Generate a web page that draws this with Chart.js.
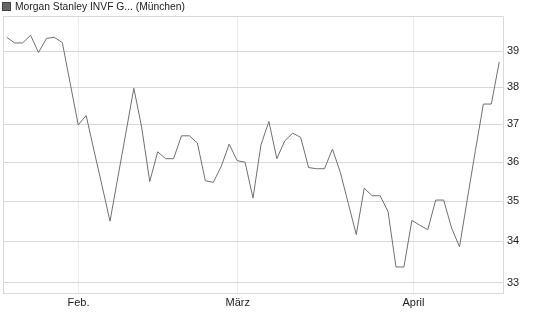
<!DOCTYPE html>
<html>
<head>
<meta charset="utf-8">
<script src="https://cdn.jsdelivr.net/npm/chart.js@4"></script>
<style>
  html, body { margin: 0; padding: 0; background: #fff; }
  #wrap { position: relative; width: 545px; height: 327px; }
  #legend { position: absolute; left: 2px; top: 0px; font: 10.3px "Liberation Sans", Arial, sans-serif; color: #222; line-height: 13px; }
  #legend span.box { display: inline-block; width: 7px; height: 7px; background: #666; border: 1px solid #444; margin-right: 4px; vertical-align: -1px; }
</style>
</head>
<body>
<div id="wrap">
  <div id="legend"><span class="box"></span>Morgan Stanley INVF G... (München)</div>
  <canvas id="priceChart" width="545" height="327"></canvas>
</div>
<script>
const seriesName = "Morgan Stanley INVF G... (München)";
// daily closing prices (trading days, mid Jan - mid Apr)
const prices = [
  39.39, 39.23, 39.23, 39.45, 38.96, 39.36, 39.39, 39.24, 38.09, 36.98,
  37.23, 36.29, 35.39, 34.50, 35.62, 36.77, 37.97, 36.90, 35.50, 36.27,
  36.09, 36.09, 36.69, 36.69, 36.50, 35.52, 35.48, 35.89, 36.47, 36.04,
  36.00, 35.08, 36.45, 37.07, 36.09, 36.56, 36.76, 36.65, 35.86, 35.83,
  35.83, 36.34, 35.73, 34.94, 34.17, 35.33, 35.14, 35.14, 34.74, 33.38,
  33.38, 34.52, 34.40, 34.29, 35.03, 35.03, 34.33, 33.87, 35.08, 36.31,
  37.54, 37.54, 38.70
];
// month starts, in trading-day index
const monthPos = [9.03, 29.08, 51.2];
const monthLabels = ["Feb.", "März", "April"];
const yTicks = [33, 34, 35, 36, 37, 38, 39];

const points = prices.map((v, i) => ({ x: i, y: v }));

const frame = {
  id: "frame",
  afterDraw(chart) {
    const a = chart.chartArea;
    const c = chart.ctx;
    c.save();
    c.strokeStyle = "#d8d8d8";
    c.lineWidth = 1;
    c.strokeRect(Math.round(a.left) + 0.5, Math.round(a.top) + 0.5,
      Math.round(a.right - a.left), Math.round(a.bottom - a.top));
    c.restore();
  }
};

const ctx = document.getElementById("priceChart").getContext("2d");
new Chart(ctx, {
  type: "line",
  data: {
    datasets: [{
      label: seriesName,
      data: points,
      borderColor: "#707070",
      borderWidth: 1,
      pointRadius: 0,
      tension: 0,
      fill: false,
    }],
  },
  options: {
    responsive: false,
    animation: false,
    layout: { padding: { top: 16, left: 3, right: 0, bottom: 0 } },
    plugins: {
      legend: { display: false },
      tooltip: { enabled: false },
    },
    scales: {
      x: {
        type: "linear",
        min: -0.47,
        max: 62.47,
        afterBuildTicks: (s) => { s.ticks = monthPos.map(v => ({ value: v })); },
        afterFit: (s) => { s.height = 34; },
        ticks: {
          callback: (v, i) => monthLabels[i],
          font: { family: "Liberation Sans", size: 11 },
          color: "#222",
          padding: 3,
          maxRotation: 0,
          autoSkip: false,
        },
        grid: { color: "#ececec", drawTicks: false },
        border: { display: false },
      },
      y: {
        type: "logarithmic",
        position: "right",
        min: 32.76,
        max: 40.0,
        afterBuildTicks: (s) => { s.ticks = yTicks.map(v => ({ value: v })); },
        afterFit: (s) => { s.width = 42; },
        ticks: {
          callback: (v) => String(v),
          font: { family: "Liberation Sans", size: 11 },
          color: "#222",
          padding: 4,
        },
        grid: { color: "#d8d8d8", drawTicks: false },
        border: { display: false },
      },
    },
  },
  plugins: [frame],
});
</script>
</body>
</html>
